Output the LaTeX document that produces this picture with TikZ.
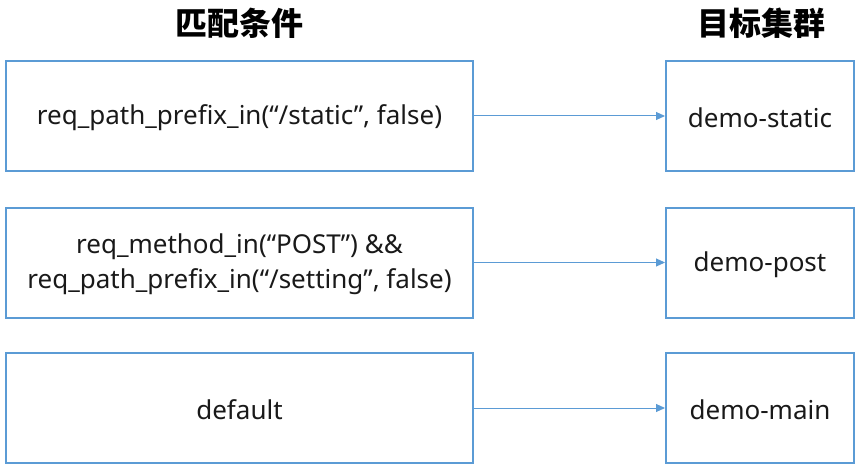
\documentclass[tikz,border=0pt]{standalone}
\usepackage{fontspec}
\setmainfont{Noto Sans}
\newfontfamily\cjk{Noto Sans CJK SC}
\usetikzlibrary{arrows.meta}
\definecolor{lineblue}{HTML}{5B9BD5}
\begin{document}
\begin{tikzpicture}[x=1pt,y=-1pt,
  box/.style={draw=lineblue,line width=2pt,inner sep=0pt},
  lbl/.style={font=\fontsize{26}{35}\selectfont,align=center,text=black!90},
  ttl/.style={font=\cjk\bfseries\fontsize{32}{36}\selectfont},
  conn/.style={draw=lineblue,line width=1pt,-{Triangle[length=9pt,width=8pt]}}]
\useasboundingbox (0,0) rectangle (859,468);
\node[ttl] (t1) at (239,23) {匹配条件};
\node[ttl] (t2) at (761,23) {目标集群};
\node[box,minimum width=467pt,minimum height=109pt] (c1) at (239.5,116) {};
\node[box,minimum width=467pt,minimum height=110pt] (c2) at (239.5,262.5) {};
\node[box,minimum width=467pt,minimum height=110pt] (c3) at (239.5,408) {};
\node[box,minimum width=188pt,minimum height=109pt] (d1) at (760,116) {};
\node[box,minimum width=188pt,minimum height=110pt] (d2) at (760,262.5) {};
\node[box,minimum width=188pt,minimum height=110pt] (d3) at (760,408) {};
\node[lbl] (l1) at ([yshift=-2pt]c1.center) {req\_path\_prefix\_in(“/static”, false)};
\node[lbl] (l2) at ([yshift=-2pt]c2.center) {req\_method\_in(“POST”) \&\&\\req\_path\_prefix\_in(“/setting”, false)};
\node[lbl] (l3) at ([yshift=-2pt]c3.center) {default};
\node[lbl] (m1) at ([yshift=-2pt]d1.center) {demo-static};
\node[lbl] (m2) at ([yshift=-2pt]d2.center) {demo-post};
\node[lbl] (m3) at ([yshift=-2pt]d3.center) {demo-main};
\draw[conn] (c1) -- (d1);
\draw[conn] (c2) -- (d2);
\draw[conn] (c3) -- (d3);
\end{tikzpicture}
\end{document}
